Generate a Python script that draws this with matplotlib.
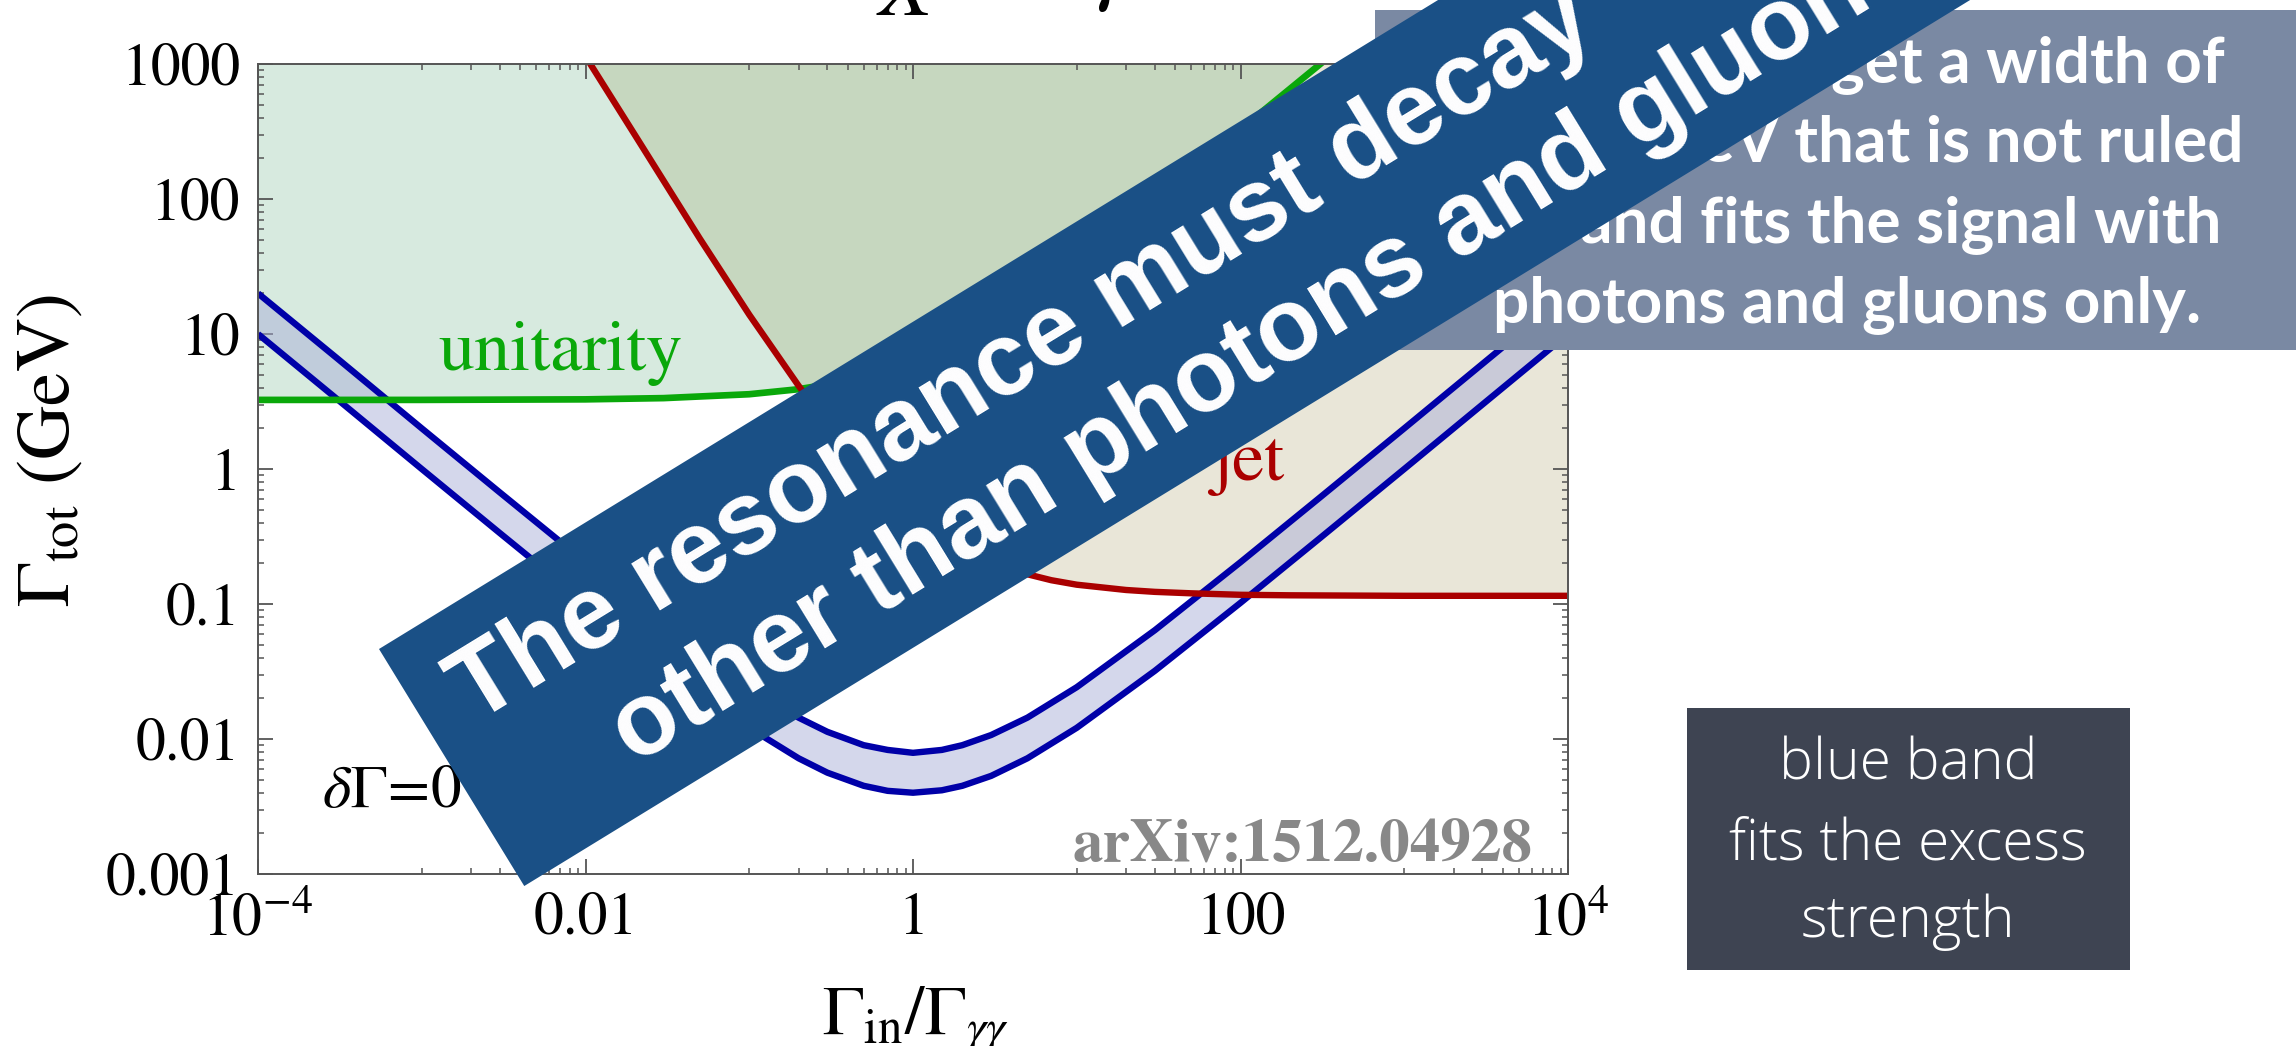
import numpy as np
import matplotlib
matplotlib.use("Agg")
import matplotlib.pyplot as plt
from matplotlib.patches import Polygon, Rectangle
from matplotlib.ticker import FixedLocator, NullFormatter

W, H = 2296, 1046

# ---------------- data ----------------
band_x = [1e-4, 3e-4, 1e-3, 3e-3, 0.01, 0.03, 0.1, 0.2, 0.3, 0.5, 0.7, 1.0,
          1.5, 2.0, 3.0, 5.0, 10.0, 30.0, 100.0, 300.0, 1e3, 3e3, 1e4]
band_lower = [10.0, 3.34, 1.0, 0.335, 0.102, 0.0353, 0.0121, 0.0072, 0.00563, 0.0045,
              0.00413, 0.0040, 0.00417, 0.0045, 0.00533, 0.0072, 0.0121, 0.032, 0.102,
              0.302, 1.0, 3.0, 10.0]
band_upper = [20.0, 6.7, 2.0, 0.67, 0.204, 0.0706, 0.0242, 0.0144, 0.0113, 0.0090,
              0.0083, 0.0079, 0.0083, 0.0090, 0.0107, 0.0144, 0.0242, 0.064, 0.204,
              0.604, 2.0, 6.0, 20.0]

green_x = [1e-4, 1e-3, 0.01, 0.03, 0.1, 0.2, 0.3, 0.5, 0.7, 1.0, 1.5, 2.0, 3.0,
           5.0, 7.0, 10.0, 20.0, 30.0, 50.0, 100.0, 200.0, 307.0]
green_y = [3.25, 3.25, 3.28, 3.35, 3.58, 3.9, 4.23, 4.88, 5.53, 6.5, 8.1, 9.75, 13.0,
           19.5, 26.0, 35.8, 68.0, 101.0, 166.0, 328.0, 653.0, 1000.0]

red_x = [0.0107, 0.02, 0.05, 0.1, 0.2, 0.3, 0.5, 0.7, 1.0, 1.5, 2.0, 3.0, 5.0, 7.0,
         10.0, 20.0, 30.0, 50.0, 100.0, 200.0, 1e3, 1e4]
red_y = [1000.0, 299.0, 50.7, 13.9, 4.14, 2.16, 1.04, 0.68, 0.46, 0.32, 0.26, 0.204,
         0.166, 0.150, 0.139, 0.127, 0.123, 0.120, 0.117, 0.116, 0.115, 0.115]

x_major = [1e-4, 1e-2, 1.0, 1e2, 1e4]
x_major_labels = [r"$10^{-4}$", "0.01", "1", "100", r"$10^{4}$"]
y_major = [1e-3, 1e-2, 0.1, 1.0, 10.0, 100.0, 1000.0]
y_major_labels = ["0.001", "0.01", "0.1", "1", "10", "100", "1000"]

gray_lines = ["get a width of", "GeV that is not ruled",
              "and fits the signal with", "photons and gluons only."]
dark_lines = ["blue band", "fits the excess", "strength"]
banner_lines = ["The resonance must decay", "other than photons and gluons"]

# ---------------- style ----------------
plt.rcParams['mathtext.fontset'] = 'stix'
plt.rcParams['font.family'] = ['STIXGeneral', 'DejaVu Serif']

C_MINT = '#d7eadf'
C_BEIGE = '#e9e6d8'
C_OLIVE = '#c6d7bf'
C_GREEN = '#0aa80a'
C_RED = '#aa0000'
C_BLUE = '#0000a8'

fig = plt.figure(figsize=(W / 100, H / 100), dpi=100)
ax = fig.add_axes([258 / W, 1 - 874 / H, 1310 / W, 810 / H])
ax.set_xscale('log')
ax.set_yscale('log')
ax.set_xlim(1e-4, 1e4)
ax.set_ylim(1e-3, 1e3)

top = 1000.0
# unitarity region (above green curve)
mint_pts = list(zip(green_x, green_y)) + [(green_x[0], top)]
mint = Polygon(mint_pts, closed=True, facecolor=C_MINT, edgecolor='none', zorder=1)
ax.add_patch(mint)
# dijet region (above red curve)
red_pts = list(zip(red_x, red_y)) + [(red_x[-1], top)]
beige = Polygon(red_pts, closed=True, facecolor=C_BEIGE, edgecolor='none', zorder=1.1)
ax.add_patch(beige)
olive = Polygon(red_pts, closed=True, facecolor=C_OLIVE, edgecolor='none', zorder=1.2)
ax.add_patch(olive)
olive.set_clip_path(mint)

# blue band
ax.fill_between(band_x, band_lower, band_upper, color='#aab0d8', alpha=0.5, lw=0, zorder=2)
ax.plot(band_x, band_lower, color=C_BLUE, lw=4.6, zorder=3, solid_capstyle='butt')
ax.plot(band_x, band_upper, color=C_BLUE, lw=4.6, zorder=3, solid_capstyle='butt')

ax.plot(green_x, green_y, color=C_GREEN, lw=4.8, zorder=4)
ax.plot(red_x, red_y, color=C_RED, lw=4.6, zorder=4)

# ticks
ax.xaxis.set_major_locator(FixedLocator(x_major))
ax.set_xticklabels(x_major_labels)
xminor = [k * 10.0 ** e for e in (-3, -1, 1, 3) for k in range(1, 10)]
ax.xaxis.set_minor_locator(FixedLocator(xminor))
ax.xaxis.set_minor_formatter(NullFormatter())
ax.yaxis.set_major_locator(FixedLocator(y_major))
ax.set_yticklabels(y_major_labels)
yminor = [k * 10.0 ** e for e in range(-3, 3) for k in range(2, 10)]
ax.yaxis.set_minor_locator(FixedLocator(yminor))
ax.yaxis.set_minor_formatter(NullFormatter())
ax.tick_params(which='both', direction='in', top=True, right=True, colors='#555555',
               labelcolor='black', labelsize=43)
ax.tick_params(which='major', length=11, width=1.3, pad=13)
ax.tick_params(which='minor', length=4, width=1.1)
for sp in ax.spines.values():
    sp.set_color('#555555')
    sp.set_linewidth(1.4)
    sp.set_zorder(5)


def fp(x, y):
    return (x / W, 1 - y / H)


fig.text(*fp(438, 370), 'unitarity', color=C_GREEN, fontsize=52, ha='left', va='baseline', zorder=6)
fig.text(*fp(1212, 480), 'jet', color=C_RED, fontsize=52, ha='left', va='baseline', zorder=6)
fig.text(*fp(322, 807), r'$\delta\Gamma\!=\!0$', color='black', fontsize=44, ha='left', va='baseline', zorder=6)
fig.text(*fp(1532, 862), 'arXiv:1512.04928', color='#888888', fontsize=44, fontweight='bold',
         ha='right', va='baseline', zorder=6)

# axis labels
fig.text(*fp(69, 451), r'$\Gamma_{\rm tot}$ (GeV)', fontsize=54, rotation=90,
         rotation_mode='anchor', ha='center', va='baseline')
fig.text(*fp(916, 1035), r'$\Gamma_{\rm in}/\Gamma_{\gamma\gamma}$', fontsize=50,
         ha='center', va='baseline')

# title fragments cut by the top edge
fig.text(*fp(905, 15), 'X', fontsize=62, fontstyle='italic', ha='center', va='baseline')
fig.text(*fp(1115, 14), r'$\gamma$', fontsize=62, ha='center', va='bottom')

# gray box (top right)
x0, y0, x1, y1 = 1375, 10, 2296, 350
fig.add_artist(Rectangle(fp(x0, y1), (x1 - x0) / W, (y1 - y0) / H, transform=fig.transFigure,
                         facecolor='#7a89a3', edgecolor='none', zorder=7))
gray_right = [2225, 2243, 2222, 2201]
gray_base = [82, 162, 242, 322]
for s, xr, yb in zip(gray_lines, gray_right, gray_base):
    fig.text(*fp(xr, yb), s, family=['Lato', 'DejaVu Sans'], fontweight='bold', fontsize=46,
             color='white', ha='right', va='baseline', zorder=8)

# dark box (bottom right)
x0, y0, x1, y1 = 1687, 708, 2130, 970
fig.add_artist(Rectangle(fp(x0, y1), (x1 - x0) / W, (y1 - y0) / H, transform=fig.transFigure,
                         facecolor='#3e4452', edgecolor='none', zorder=7))
for s, yb in zip(dark_lines, [780, 860, 937]):
    fig.text(*fp(1908, yb), s, family=['Open Sans', 'Lato', 'DejaVu Sans'], fontweight='light',
             fontsize=41, color='white', ha='center', va='baseline', zorder=8)

# diagonal banner
a = np.deg2rad(31.5)
u = np.array([np.cos(a), -np.sin(a)])
n = np.array([np.sin(a), np.cos(a)])
L = np.array([379.0, 649.0])
thick = 278.0
length = 2700.0
B = L + thick * n
corners = [L, B, B + length * u, L + length * u]
fig.add_artist(Polygon([fp(*c) for c in corners], closed=True, transform=fig.transFigure,
                       facecolor='#1a5086', edgecolor='none', zorder=10))
for s, along, down in zip(banner_lines, [42, 157], [114, 232]):
    p = L + along * u + down * n
    fig.text(*fp(*p), s, family=['Liberation Sans', 'DejaVu Sans'], fontweight='bold',
             fontsize=74, color='white', rotation=31.5, rotation_mode='anchor',
             ha='left', va='baseline', zorder=11)

fig.savefig('out.png', dpi=100)
